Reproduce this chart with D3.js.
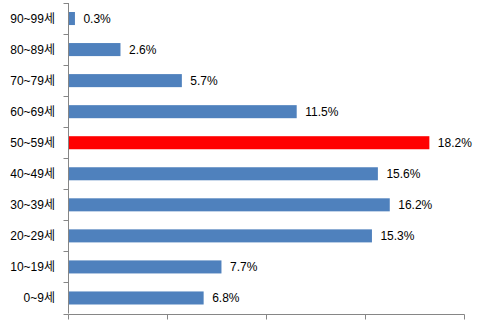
<!DOCTYPE html>
<html>
<head>
<meta charset="utf-8">
<script src="https://cdn.jsdelivr.net/npm/d3@7"></script>
<style>
  html, body { margin: 0; padding: 0; background: #fff; }
  svg { display: block; }
  text { font-family: "Liberation Sans", Arial, "Noto Sans CJK KR", sans-serif; font-size: 12px; fill: #000; }
</style>
</head>
<body>
<svg id="chart" width="482" height="323"></svg>
<script>
// Age groups, top to bottom
const categories = ["90~99세", "80~89세", "70~79세", "60~69세", "50~59세",
                    "40~49세", "30~39세", "20~29세", "10~19세", "0~9세"];
// Share of each age group (%)
const values = [0.3, 2.6, 5.7, 11.5, 18.2, 15.6, 16.2, 15.3, 7.7, 6.8];
// Group shown in the highlight colour
const highlighted = ["50~59세"];
// Value-axis ticks (unlabelled)
const xTicks = [0, 5, 10, 15, 20];

const svg = d3.select("#chart");
const axisColor = "#868686";

const x = d3.scaleLinear().domain([0, 20]).range([68.5, 464.5]);
const y = d3.scaleBand().domain(categories).range([3, 313.5])
  .paddingInner(0.58).paddingOuter(0.29);

const data = categories.map((c, i) => ({ cat: c, value: values[i] }));

// Bars
svg.append("g").selectAll("rect").data(data).join("rect")
  .attr("x", x(0) - 0.5 + 1)
  .attr("y", d => y(d.cat))
  .attr("width", d => x(d.value) - x(0))
  .attr("height", y.bandwidth())
  .attr("fill", d => highlighted.includes(d.cat) ? "#FF0000" : "#4F81BD");

// Value labels
svg.append("g").selectAll("text").data(data).join("text")
  .attr("x", d => x(d.value) + 9)
  .attr("y", d => y(d.cat) + y.bandwidth() / 2)
  .attr("dy", "0.36em")
  .text(d => d.value.toFixed(1) + "%");

// Category axis: line with ticks on band boundaries
const yAxis = svg.append("g");
const y0 = y.range()[0], y1 = y.range()[1];
yAxis.append("line")
  .attr("x1", x(0)).attr("x2", x(0))
  .attr("y1", y0).attr("y2", y1)
  .attr("stroke", axisColor);
const bounds = categories.map(c => y(c) - y.step() * y.paddingInner() / 2).concat([y1]);
yAxis.selectAll("line.tick").data(bounds).join("line")
  .attr("class", "tick")
  .attr("x1", x(0) - 5).attr("x2", x(0))
  .attr("y1", d => Math.round(d) + 0.5).attr("y2", d => Math.round(d) + 0.5)
  .attr("stroke", axisColor);
yAxis.selectAll("text").data(categories).join("text")
  .attr("x", 55)
  .attr("y", d => y(d) + y.bandwidth() / 2)
  .attr("dy", "0.36em")
  .attr("text-anchor", "end")
  .text(d => d);

// Value axis along the bottom, ticks only
const xAxis = svg.append("g").attr("transform", `translate(0,${Math.round(y1) + 0.5})`);
xAxis.append("line")
  .attr("x1", x(0)).attr("x2", x(20))
  .attr("stroke", axisColor);
xAxis.selectAll("line.tick").data(xTicks).join("line")
  .attr("class", "tick")
  .attr("x1", d => x(d)).attr("x2", d => x(d))
  .attr("y1", 0).attr("y2", 5)
  .attr("stroke", axisColor);
</script>
</body>
</html>
